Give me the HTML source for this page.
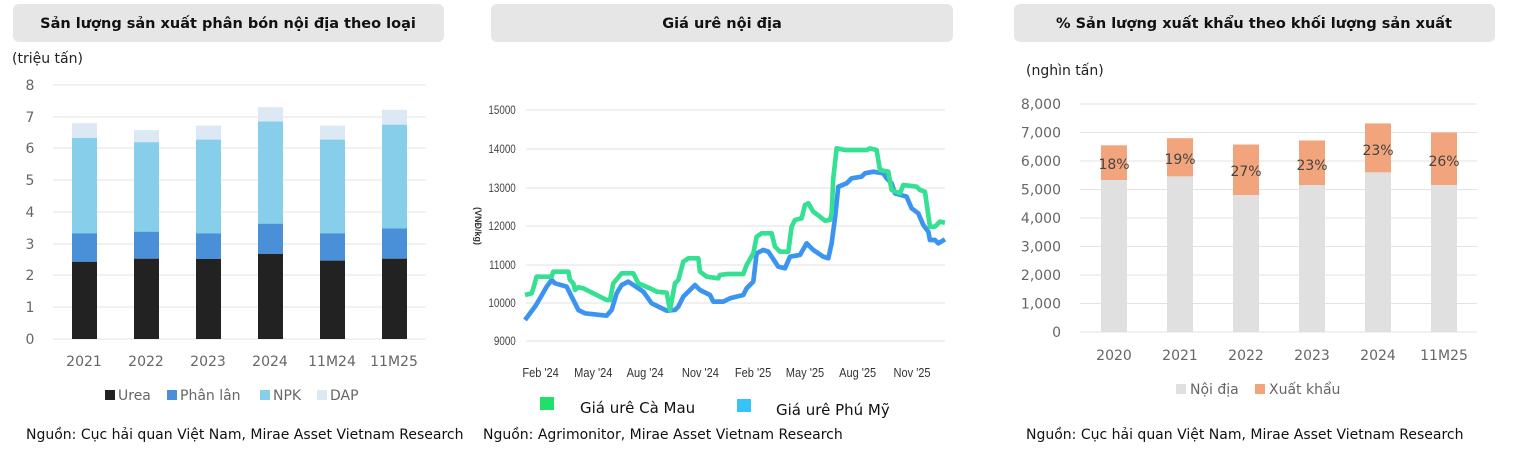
<!DOCTYPE html>
<html><head><meta charset="utf-8"><style>
html,body{margin:0;padding:0;background:#fff;}
svg{display:block;font-family:"DejaVu Sans","Liberation Sans",sans-serif;}
</style></head><body>
<svg width="1517" height="455" viewBox="0 0 1517 455" xmlns="http://www.w3.org/2000/svg">
<rect width="1517" height="455" fill="#fff"/>
<!-- title boxes -->
<rect x="13" y="4" width="431" height="38" rx="6" fill="#e6e6e6"/>
<text x="228" y="28" text-anchor="middle" font-size="14.5" font-weight="bold" fill="#111">Sản lượng sản xuất phân bón nội địa theo loại</text>
<rect x="491" y="4" width="462" height="38" rx="6" fill="#e6e6e6"/>
<text x="722" y="28" text-anchor="middle" font-size="14.5" font-weight="bold" fill="#111">Giá urê nội địa</text>
<rect x="1014" y="4" width="481" height="38" rx="6" fill="#e6e6e6"/>
<text x="1254" y="28" text-anchor="middle" font-size="14.5" font-weight="bold" fill="#111">% Sản lượng xuất khẩu theo khối lượng sản xuất</text>

<!-- LEFT CHART -->
<text x="12" y="63" font-size="14" fill="#222">(triệu tấn)</text>
<g stroke="#e3e3e3" stroke-width="1">
<line x1="53" x2="426" y1="85" y2="85"/><line x1="53" x2="426" y1="117" y2="117"/><line x1="53" x2="426" y1="148" y2="148"/><line x1="53" x2="426" y1="180" y2="180"/><line x1="53" x2="426" y1="212" y2="212"/><line x1="53" x2="426" y1="244" y2="244"/><line x1="53" x2="426" y1="275" y2="275"/><line x1="53" x2="426" y1="307" y2="307"/><line x1="53" x2="426" y1="339" y2="339"/>
</g>
<g font-size="14" fill="#666" text-anchor="middle">
<text x="30" y="90">8</text><text x="30" y="122">7</text><text x="30" y="153">6</text><text x="30" y="185">5</text><text x="30" y="217">4</text><text x="30" y="249">3</text><text x="30" y="280">2</text><text x="30" y="312">1</text><text x="30" y="344">0</text>
</g>
<g>
<rect x="72" y="123.1" width="25" height="15" fill="#dce9f5"/><rect x="72" y="138" width="25" height="95.3" fill="#87ceeb"/><rect x="72" y="233.3" width="25" height="28.5" fill="#4a90d9"/><rect x="72" y="261.8" width="25" height="77.2" fill="#222"/>
<rect x="134" y="130.1" width="25" height="12.1" fill="#dce9f5"/><rect x="134" y="142.2" width="25" height="89.5" fill="#87ceeb"/><rect x="134" y="231.7" width="25" height="27" fill="#4a90d9"/><rect x="134" y="258.7" width="25" height="80.3" fill="#222"/>
<rect x="196" y="125.6" width="25" height="14" fill="#dce9f5"/><rect x="196" y="139.6" width="25" height="93.7" fill="#87ceeb"/><rect x="196" y="233.3" width="25" height="25.7" fill="#4a90d9"/><rect x="196" y="259" width="25" height="80" fill="#222"/>
<rect x="258" y="107.2" width="25" height="14.3" fill="#dce9f5"/><rect x="258" y="121.5" width="25" height="102.2" fill="#87ceeb"/><rect x="258" y="223.7" width="25" height="30.2" fill="#4a90d9"/><rect x="258" y="253.9" width="25" height="85.1" fill="#222"/>
<rect x="320" y="125.6" width="25" height="14" fill="#dce9f5"/><rect x="320" y="139.6" width="25" height="93.7" fill="#87ceeb"/><rect x="320" y="233.3" width="25" height="27.3" fill="#4a90d9"/><rect x="320" y="260.6" width="25" height="78.4" fill="#222"/>
<rect x="382" y="109.8" width="25" height="14.9" fill="#dce9f5"/><rect x="382" y="124.7" width="25" height="103.8" fill="#87ceeb"/><rect x="382" y="228.5" width="25" height="30.2" fill="#4a90d9"/><rect x="382" y="258.7" width="25" height="80.3" fill="#222"/>
</g>
<g font-size="14" fill="#666" text-anchor="middle">
<text x="84" y="366">2021</text><text x="146" y="366">2022</text><text x="208" y="366">2023</text><text x="270" y="366">2024</text><text x="332" y="366">11M24</text><text x="394" y="366">11M25</text>
</g>
<g font-size="14" fill="#666">
<rect x="105" y="390" width="10" height="10" fill="#222"/><text x="118" y="400">Urea</text>
<rect x="167" y="390" width="10" height="10" fill="#4a90d9"/><text x="180" y="400">Phân lân</text>
<rect x="260" y="390" width="10" height="10" fill="#87ceeb"/><text x="273" y="400">NPK</text>
<rect x="317" y="390" width="10" height="10" fill="#dce9f5"/><text x="330" y="400">DAP</text>
</g>
<text x="26" y="439" font-size="14" fill="#111">Nguồn: Cục hải quan Việt Nam, Mirae Asset Vietnam Research</text>

<!-- MIDDLE CHART -->
<g stroke="#e6e6e6" stroke-width="1.2">
<line x1="526" x2="945" y1="110" y2="110"/><line x1="526" x2="945" y1="149" y2="149"/><line x1="526" x2="945" y1="188" y2="188"/><line x1="526" x2="945" y1="226" y2="226"/><line x1="526" x2="945" y1="265" y2="265"/><line x1="526" x2="945" y1="303" y2="303"/><line x1="526" x2="945" y1="341" y2="341"/>
</g>
<g font-size="12" fill="#444" text-anchor="end" transform="scale(0.82,1)" font-family="Liberation Sans, sans-serif">
<text x="629" y="114">15000</text><text x="629" y="153">14000</text><text x="629" y="192">13000</text><text x="629" y="230">12000</text><text x="629" y="269">11000</text><text x="629" y="307">10000</text><text x="629" y="345">9000</text>
</g>
<text transform="translate(475,226) rotate(90)" text-anchor="middle" font-size="9" font-weight="bold" fill="#333" font-family="Liberation Sans, sans-serif">(VNĐ/kg)</text>
<g font-size="13" fill="#333" text-anchor="middle" transform="scale(0.85,1)" font-family="Liberation Sans, sans-serif">
<text x="636" y="377">Feb '24</text><text x="698" y="377">May '24</text><text x="759" y="377">Aug '24</text><text x="824" y="377">Nov '24</text><text x="886" y="377">Feb '25</text><text x="947" y="377">May '25</text><text x="1009" y="377">Aug '25</text><text x="1073" y="377">Nov '25</text>
</g>
<g transform="translate(470,80) scale(0.3333)" fill="none" stroke-width="14" stroke-linejoin="round">
<polyline stroke="#3b95f0" points="165,720 180,700 195,680 210,655 230,620 245,600 255,610 290,620 310,660 325,690 345,700 410,707 425,690 440,640 455,615 475,605 490,615 520,635 545,670 565,680 590,692 615,690 625,680 640,650 660,630 675,615 690,630 720,645 730,665 760,665 780,655 800,650 820,645 830,625 850,605 860,520 880,510 895,515 905,530 925,560 945,565 960,530 990,525 1010,490 1030,510 1060,530 1075,535 1085,490 1095,415 1105,320 1130,310 1145,295 1175,290 1185,280 1210,275 1240,280 1250,295 1265,310 1275,340 1310,350 1325,385 1345,400 1360,435 1375,455 1380,480 1395,480 1405,490 1425,478"/>
<polyline stroke="#36e092" points="165,645 185,640 190,625 200,590 245,590 250,575 295,575 300,600 310,610 315,630 325,622 340,625 410,660 420,660 430,610 455,580 490,580 505,610 540,625 560,635 590,638 600,690 615,610 625,600 640,545 655,535 685,535 690,575 710,590 745,595 750,585 775,582 820,582 830,555 850,520 860,470 875,460 905,460 915,500 930,515 955,515 965,440 975,420 995,415 1005,375 1015,370 1030,395 1050,410 1065,422 1080,420 1085,400 1090,295 1100,205 1125,210 1190,210 1200,205 1220,210 1230,270 1255,275 1265,330 1290,340 1300,315 1340,320 1350,330 1365,335 1380,440 1395,440 1405,430 1410,425 1425,428"/>
</g>
<rect x="540" y="397" width="14" height="13" fill="#1ee06a"/>
<text x="580" y="413" font-size="15" fill="#111">Giá urê Cà Mau</text>
<rect x="737" y="399" width="14" height="13" fill="#38c3f8"/>
<text x="776" y="415" font-size="15" fill="#111">Giá urê Phú Mỹ</text>
<text x="483" y="439" font-size="14" fill="#111">Nguồn: Agrimonitor, Mirae Asset Vietnam Research</text>

<!-- RIGHT CHART -->
<text x="1026" y="75" font-size="14" fill="#222">(nghìn tấn)</text>
<g stroke="#e3e3e3" stroke-width="1">
<line x1="1080" x2="1477" y1="104" y2="104"/><line x1="1080" x2="1477" y1="132.5" y2="132.5"/><line x1="1080" x2="1477" y1="161" y2="161"/><line x1="1080" x2="1477" y1="189.5" y2="189.5"/><line x1="1080" x2="1477" y1="218" y2="218"/><line x1="1080" x2="1477" y1="246.5" y2="246.5"/><line x1="1080" x2="1477" y1="275" y2="275"/><line x1="1080" x2="1477" y1="303.5" y2="303.5"/><line x1="1080" x2="1477" y1="332" y2="332"/>
</g>
<g font-size="14" fill="#666" text-anchor="end">
<text x="1061" y="109">8,000</text><text x="1061" y="137.5">7,000</text><text x="1061" y="166">6,000</text><text x="1061" y="194.5">5,000</text><text x="1061" y="223">4,000</text><text x="1061" y="251.5">3,000</text><text x="1061" y="280">2,000</text><text x="1061" y="308.5">1,000</text><text x="1061" y="337">0</text>
</g>
<g>
<rect x="1101" y="145.3" width="26" height="34.8" fill="#f2a47c"/><rect x="1101" y="180.1" width="26" height="151.9" fill="#e0e0e0"/>
<rect x="1167" y="138.2" width="26" height="38.2" fill="#f2a47c"/><rect x="1167" y="176.4" width="26" height="155.6" fill="#e0e0e0"/>
<rect x="1233" y="144.5" width="26" height="50.7" fill="#f2a47c"/><rect x="1233" y="195.2" width="26" height="136.8" fill="#e0e0e0"/>
<rect x="1299" y="140.5" width="26" height="44.7" fill="#f2a47c"/><rect x="1299" y="185.2" width="26" height="146.8" fill="#e0e0e0"/>
<rect x="1365" y="123.4" width="26" height="49" fill="#f2a47c"/><rect x="1365" y="172.4" width="26" height="159.6" fill="#e0e0e0"/>
<rect x="1431" y="132.5" width="26" height="52.7" fill="#f2a47c"/><rect x="1431" y="185.2" width="26" height="146.8" fill="#e0e0e0"/>
</g>
<g font-size="14" fill="#444" text-anchor="middle">
<text x="1114" y="169">18%</text><text x="1180" y="164">19%</text><text x="1246" y="176">27%</text><text x="1312" y="170">23%</text><text x="1378" y="155">23%</text><text x="1444" y="166">26%</text>
</g>
<g font-size="14" fill="#666" text-anchor="middle">
<text x="1114" y="360">2020</text><text x="1180" y="360">2021</text><text x="1246" y="360">2022</text><text x="1312" y="360">2023</text><text x="1378" y="360">2024</text><text x="1444" y="360">11M25</text>
</g>
<g font-size="14" fill="#666">
<rect x="1176" y="384" width="10" height="10" fill="#e0e0e0"/><text x="1190" y="394">Nội địa</text>
<rect x="1255" y="384" width="10" height="10" fill="#f2a47c"/><text x="1269" y="394">Xuất khẩu</text>
</g>
<text x="1026" y="439" font-size="14" fill="#111">Nguồn: Cục hải quan Việt Nam, Mirae Asset Vietnam Research</text>
</svg>
</body></html>
